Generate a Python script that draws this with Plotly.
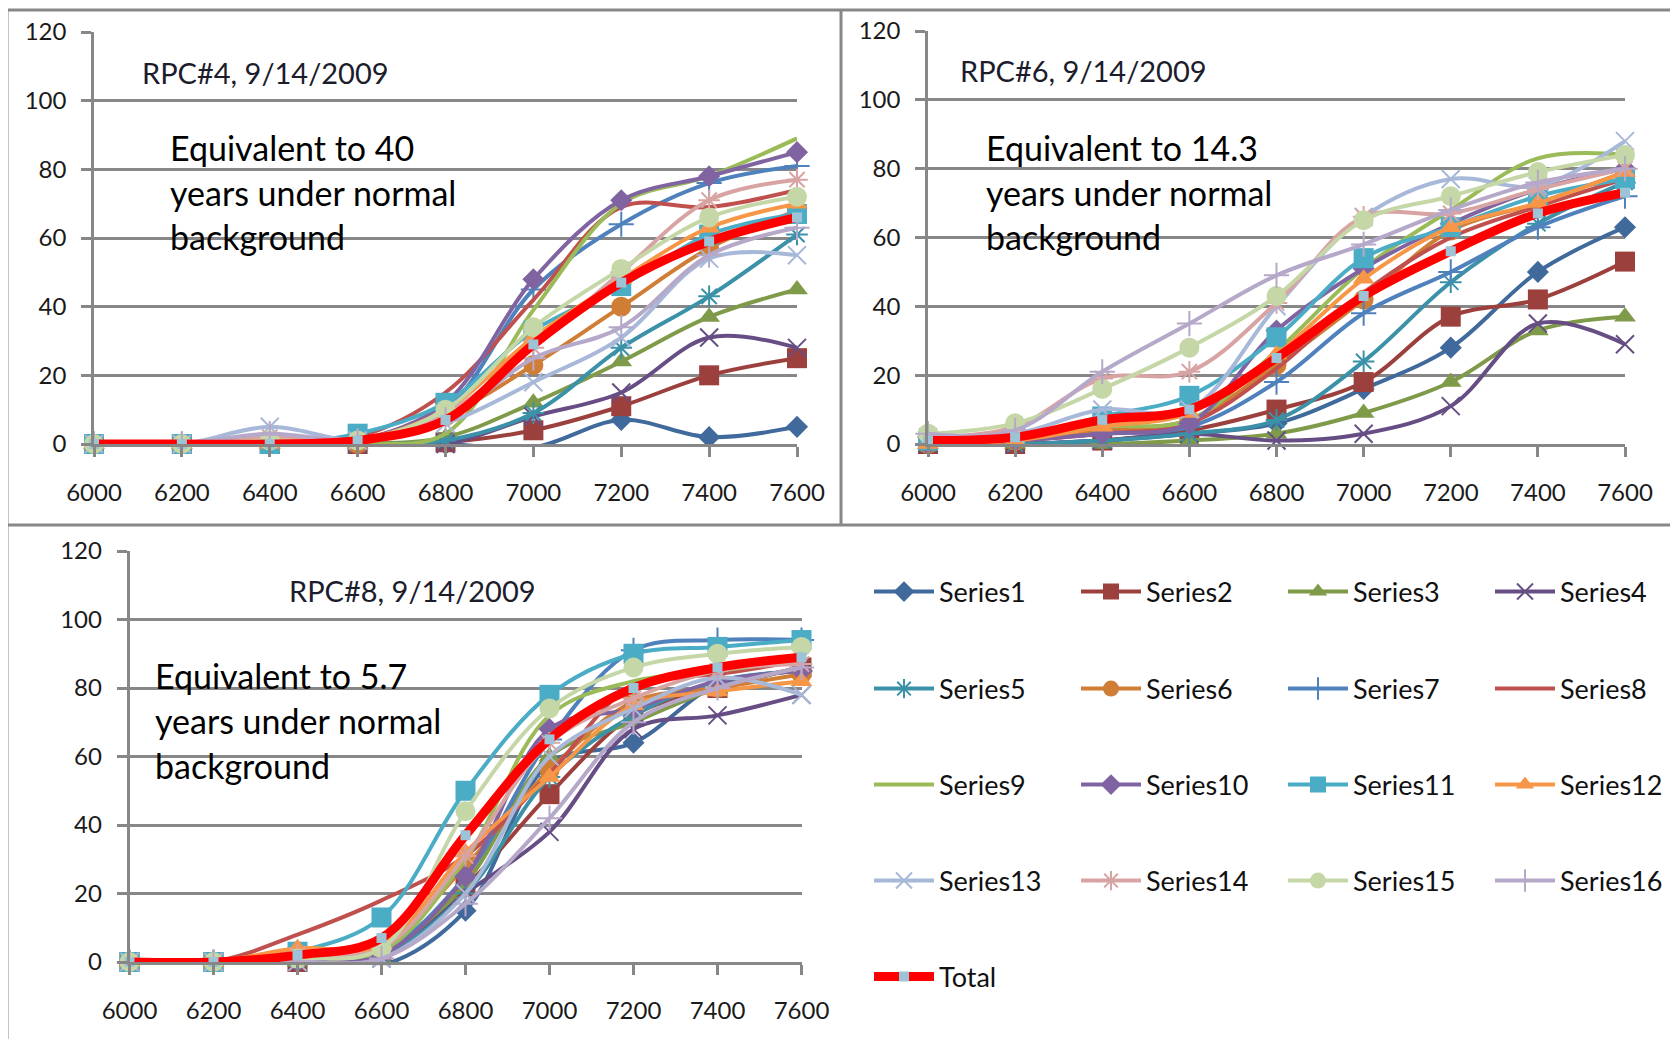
import plotly.graph_objects as go

W, H = 1678, 1039
PAGE_OFFSET = 8  # default body margin of the page

X_VALUES = [6000, 6200, 6400, 6600, 6800, 7000, 7200, 7400, 7600]
X_TICK_LABELS = ["6000", "6200", "6400", "6600", "6800", "7000", "7200", "7400", "7600"]
Y_TICKS = [0, 20, 40, 60, 80, 100, 120]
SERIES_NAMES = ["Series1", "Series2", "Series3", "Series4", "Series5", "Series6",
                "Series7", "Series8", "Series9", "Series10", "Series11", "Series12",
                "Series13", "Series14", "Series15", "Series16", "Total"]

PANEL_TITLES = ["RPC#4, 9/14/2009", "RPC#6, 9/14/2009", "RPC#8, 9/14/2009"]
PANEL_NOTES = [
    ["Equivalent to 40", "years under normal", "background"],
    ["Equivalent to 14.3", "years under normal", "background"],
    ["Equivalent to 5.7", "years under normal", "background"],
]

# ---- RPC#4 ----
RPC4_S1 = [0, 0, 0, 0, 0, -1, 7, 2, 5]
RPC4_S2 = [0, 0, 0, 0, 0.5, 4, 11, 20, 25]
RPC4_S3 = [0, 0, 0, 0, 2, 12, 24, 37, 45]
RPC4_S4 = [0, 0, 0, 0, 0, 8, 15, 31, 28]
RPC4_S5 = [0, 0, 0, 0, 1, 9, 28, 43, 61]
RPC4_S6 = [0, 0, 0, 0, 8, 23, 40, 57, 68]
RPC4_S7 = [0, 0, 0, 1, 10, 45, 64, 76, 81]
RPC4_S8 = [0, 0, 0, 2, 15, 42, 69, 69, 74]
RPC4_S9 = [0, 0, 0, 0, 3, 39, 70, 78, 89]
RPC4_S10 = [0, 0, 0, 1, 12, 48, 71, 78, 85]
RPC4_S11 = [0, 0, 0, 3, 12, 33, 46, 61, 67]
RPC4_S12 = [0, 0, 0, 1, 10, 31, 48, 63, 70]
RPC4_S13 = [0, 0, 5, 1, 6, 18, 31, 54, 55]
RPC4_S14 = [0, 0, 2, 1, 9, 28, 50, 71, 77]
RPC4_S15 = [0, 0, 1, 1, 10, 34, 51, 66, 72]
RPC4_S16 = [0, 0, 3, 1, 7, 25, 34, 55, 63]
RPC4_TOTAL = [0, 0, 0, 1, 7, 29, 47, 59, 66]

# ---- RPC#6 ----
RPC6_S1 = [0, 0, 1, 3, 6, 16, 28, 50, 63]
RPC6_S2 = [0, 0, 1, 4, 10, 18, 37, 42, 53]
RPC6_S3 = [0, 0, 0, 1, 3, 9, 18, 33, 37]
RPC6_S4 = [0, 0, 1, 3, 1, 3, 11, 35, 29]
RPC6_S5 = [0, 0, 1, 3, 7, 24, 47, 64, 76]
RPC6_S6 = [0, 1, 4, 7, 23, 42, 62, 70, 79]
RPC6_S7 = [0, 1, 3, 5, 18, 38, 50, 63, 72]
RPC6_S8 = [0, 1, 3, 6, 22, 44, 60, 69, 77]
RPC6_S9 = [1, 2, 5, 7, 27, 51, 68, 83, 84]
RPC6_S10 = [0, 1, 3, 6, 33, 51, 64, 74, 80]
RPC6_S11 = [1, 2, 8, 14, 31, 54, 63, 72, 77]
RPC6_S12 = [0, 1, 5, 9, 26, 48, 63, 70, 79]
RPC6_S13 = [2, 3, 10, 10, 40, 66, 77, 75, 88]
RPC6_S14 = [2, 5, 19, 21, 41, 66, 67, 74, 80]
RPC6_S15 = [3, 6, 16, 28, 43, 65, 72, 79, 84]
RPC6_S16 = [3, 4, 21, 35, 49, 58, 68, 76, 80]
RPC6_TOTAL = [1, 2, 7, 10, 25, 43, 56, 67, 73]

# ---- RPC#8 ----
RPC8_S1 = [0, 0, 0, -1, 15, 58, 64, 81, 85]
RPC8_S2 = [0, 0, 0, 2, 22, 49, 72, 80, 86]
RPC8_S3 = [0, 0, 0, 1, 23, 60, 70, 80, 86]
RPC8_S4 = [0, 0, 0, 1, 20, 38, 68, 72, 78]
RPC8_S5 = [0, 0, 1, 2, 20, 54, 72, 82, 85]
RPC8_S6 = [0, 0, 3, 5, 28, 56, 76, 80, 84]
RPC8_S7 = [0, 0, 1, 3, 25, 65, 91, 94, 94]
RPC8_S8 = [0, 0, 8, 18, 31, 55, 81, 84, 88]
RPC8_S9 = [0, 0, 1, 3, 30, 72, 82, 85, 88]
RPC8_S10 = [0, 0, 0, 2, 25, 68, 74, 82, 85]
RPC8_S11 = [0, 0, 3, 13, 50, 78, 90, 92, 94]
RPC8_S12 = [0, 0, 4, 5, 32, 54, 75, 79, 82]
RPC8_S13 = [0, 0, 0, 1, 20, 60, 74, 83, 78]
RPC8_S14 = [0, 0, 2, 4, 31, 64, 77, 85, 87]
RPC8_S15 = [0, 0, 1, 4, 44, 74, 86, 90, 92]
RPC8_S16 = [0, 0, 0, 1, 17, 42, 70, 80, 86]
RPC8_TOTAL = [0, 0, 2, 7, 37, 65, 80, 86, 89]

PANELS = [
    [RPC4_S1, RPC4_S2, RPC4_S3, RPC4_S4, RPC4_S5, RPC4_S6, RPC4_S7, RPC4_S8,
     RPC4_S9, RPC4_S10, RPC4_S11, RPC4_S12, RPC4_S13, RPC4_S14, RPC4_S15, RPC4_S16, RPC4_TOTAL],
    [RPC6_S1, RPC6_S2, RPC6_S3, RPC6_S4, RPC6_S5, RPC6_S6, RPC6_S7, RPC6_S8,
     RPC6_S9, RPC6_S10, RPC6_S11, RPC6_S12, RPC6_S13, RPC6_S14, RPC6_S15, RPC6_S16, RPC6_TOTAL],
    [RPC8_S1, RPC8_S2, RPC8_S3, RPC8_S4, RPC8_S5, RPC8_S6, RPC8_S7, RPC8_S8,
     RPC8_S9, RPC8_S10, RPC8_S11, RPC8_S12, RPC8_S13, RPC8_S14, RPC8_S15, RPC8_S16, RPC8_TOTAL],
]

# ---- styles ----
COLORS = ["#40699C", "#9C403D", "#7F9A48", "#664E85", "#3B92A8", "#D07D35",
          "#4F81BD", "#C0504D", "#9BBB59", "#8064A2", "#4BACC6", "#F79646",
          "#A7B8D8", "#D8A4A3", "#C6D7A7", "#B5A8C9", "#FF0000"]
SYMBOLS = ["diamond", "square", "triangle-up", "x-thin-open", "asterisk-open", "circle",
           "cross-thin-open", None, None, "diamond", "square", "triangle-up",
           "x-thin-open", "asterisk-open", "circle", "cross-thin-open", "square"]
SIZES = [17, 20, 19, 18, 18, 20, 18, 0, 0, 17, 20, 19, 18, 18, 20, 18, 10]

GRID = "#878787"
FONT = "Lato"

# panel boxes in screen pixels: (x_left, x_right, y_top(120), y_bottom(0))
BOXES = [(94, 797, 32, 444), (928, 1625, 31, 444), (129.5, 801.5, 551, 962)]
TITLE_POS = [(140, 73), (958, 70), (287, 590)]
NOTE_POS = [(168, 147), (984, 147), (153, 675)]
NOTE_STEP = 45

LEGEND_ROWS_Y = [592, 689, 785, 881, 977]
LEGEND_X = 869


def fx(px):
    return (px - PAGE_OFFSET) / W


def fy(py):
    return 1 - (py - PAGE_OFFSET) / H


fig = go.Figure()

for p, series_list in enumerate(PANELS):
    ax = "" if p == 0 else str(p + 1)
    for i, (name, vals) in enumerate(zip(SERIES_NAMES, series_list)):
        sym = SYMBOLS[i]
        col = COLORS[i]
        is_total = name == "Total"
        mode = "lines+markers" if sym else "lines"
        marker = None
        if sym:
            if is_total:
                marker = dict(symbol=sym, size=SIZES[i], color="#9DC3D6",
                              line=dict(width=0))
            elif sym.endswith("-open"):
                marker = dict(symbol=sym, size=SIZES[i], color=col,
                              line=dict(color=col, width=2))
            else:
                marker = dict(symbol=sym, size=SIZES[i], color=col,
                              line=dict(width=0))
        leg = "legend" if i // 4 == 0 else f"legend{i // 4 + 1}"
        fig.add_trace(go.Scatter(
            x=X_VALUES, y=vals, name=name, mode=mode,
            line=dict(color=col, width=9 if is_total else 4, shape="spline"),
            marker=marker,
            xaxis="x" + ax, yaxis="y" + ax,
            showlegend=(p == 0), legend=leg,
            cliponaxis=False, hoverinfo="x+y+name",
        ))

layout = dict(
    width=W, height=H,
    margin=dict(l=0, r=0, t=0, b=0, pad=0, autoexpand=False),
    paper_bgcolor="white", plot_bgcolor="white",
    font=dict(family=FONT, color="#1a1a1a"),
    showlegend=True,
)

for p, (x0, x1, yt, yb) in enumerate(BOXES):
    ax = "" if p == 0 else str(p + 1)
    layout["xaxis" + ax] = dict(
        domain=[fx(x0), fx(x1)], range=[6000, 7600], anchor="y" + ax,
        tickvals=X_VALUES, ticktext=X_TICK_LABELS, automargin=False,
        showgrid=False, zeroline=False, showline=True, linecolor=GRID, linewidth=2.5,
        ticks="outside", ticklen=10, tickwidth=2.5, tickcolor=GRID,
        ticklabelstandoff=15,
        tickfont=dict(family=FONT, size=24, color="#1a1a1a"),
        fixedrange=True,
    )
    layout["yaxis" + ax] = dict(
        domain=[fy(yb), fy(yt)], range=[0, 120], anchor="x" + ax,
        tickvals=Y_TICKS, automargin=False,
        showgrid=True, gridcolor=GRID, gridwidth=2.5,
        zeroline=False, showline=True, linecolor=GRID, linewidth=2.5,
        ticks="outside", ticklen=10, tickwidth=2.5, tickcolor=GRID,
        ticklabelstandoff=10,
        tickfont=dict(family=FONT, size=24, color="#1a1a1a"),
        fixedrange=True,
    )

for r, ry in enumerate(LEGEND_ROWS_Y):
    key = "legend" if r == 0 else f"legend{r + 1}"
    layout[key] = dict(
        orientation="h", x=fx(LEGEND_X), xanchor="left",
        y=fy(ry), yanchor="middle",
        entrywidth=132, entrywidthmode="pixels", itemwidth=60,
        traceorder="normal",
        font=dict(family=FONT, size=27, color="#111111"),
        bgcolor="rgba(0,0,0,0)", borderwidth=0,
    )

annotations = []
for p in range(3):
    tx, ty = TITLE_POS[p]
    annotations.append(dict(
        text=PANEL_TITLES[p], xref="paper", yref="paper", x=fx(tx), y=fy(ty),
        xanchor="left", yanchor="middle", showarrow=False,
        font=dict(family=FONT, size=29, color="#1c1c2c"),
    ))
    nx, ny = NOTE_POS[p]
    for k, line in enumerate(PANEL_NOTES[p]):
        annotations.append(dict(
            text=line, xref="paper", yref="paper", x=fx(nx), y=fy(ny + k * NOTE_STEP),
            xanchor="left", yanchor="middle", showarrow=False,
            font=dict(family=FONT, size=34, color="#000000"),
        ))
layout["annotations"] = annotations

border = dict(color=GRID, width=3)
layout["shapes"] = [
    dict(type="line", xref="paper", yref="paper", x0=fx(7), x1=fx(1675), y0=fy(10), y1=fy(10), line=border),
    dict(type="line", xref="paper", yref="paper", x0=fx(7), x1=fx(7), y0=fy(10), y1=fy(1039), line=border),
    dict(type="line", xref="paper", yref="paper", x0=fx(841), x1=fx(841), y0=fy(10), y1=fy(525), line=border),
    dict(type="line", xref="paper", yref="paper", x0=fx(1675), x1=fx(1675), y0=fy(10), y1=fy(525), line=border),
    dict(type="line", xref="paper", yref="paper", x0=fx(7), x1=fx(1675), y0=fy(525), y1=fy(525), line=border),
]

fig.update_layout(**layout)
fig.write_html("out.html", config={"displayModeBar": False})
